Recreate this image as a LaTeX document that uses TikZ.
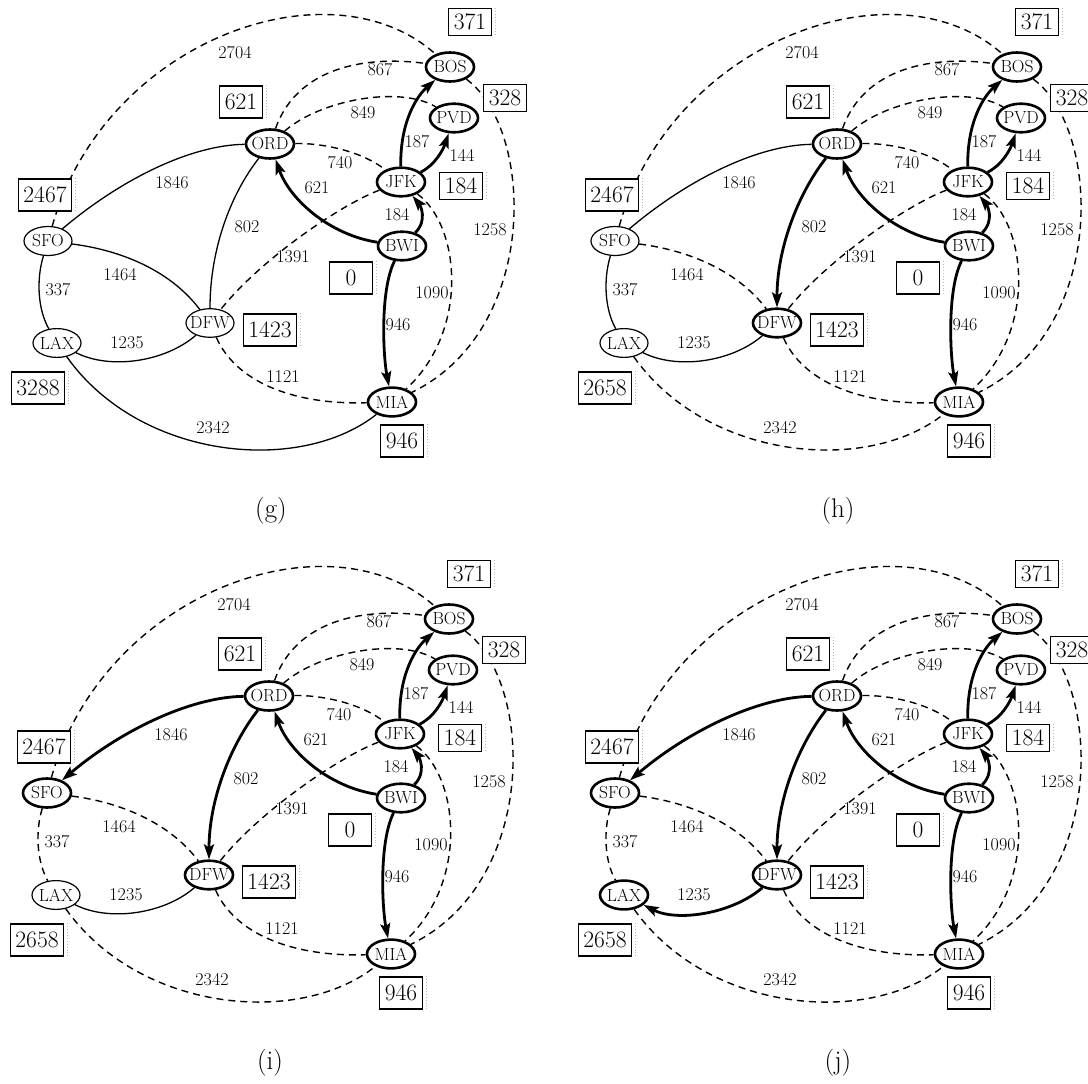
\documentclass[tikz,border=0pt]{standalone}
\usetikzlibrary{shapes.geometric,arrows.meta}
\tikzset{
  apt/.style={ellipse, draw, fill=white, font=\fontsize{17.5}{17.5}\selectfont,
    inner xsep=-3pt, inner ysep=4pt, minimum width=48pt, minimum height=28pt},
  fin/.style={line width=2.6pt},
  unf/.style={line width=1.2pt},
  dist/.style={draw, fill=white, line width=1.1pt, font=\fontsize{23.5}{23.5}\selectfont,
    inner xsep=5pt, inner ysep=2pt, minimum width=43pt, minimum height=32pt},
  sdist/.style={dist, minimum height=27pt},
  wlab/.style={font=\fontsize{18}{18}\selectfont, inner sep=0pt},
  caplab/.style={font=\fontsize{27}{27}\selectfont, inner sep=0pt},
  solidedge/.style={line width=1.3pt},
  dashedge/.style={line width=1.4pt, dash pattern=on 7pt off 5pt},
  treeedge/.style={line width=2.8pt, -{Stealth[length=15pt,width=10pt,inset=3pt]}},
  ghost/.style={gray!55, dotted, line width=0.9pt},
}
\newcommand\distbox[4]{%
  \node[#1] (#2) at #3 {#4};
  \draw[ghost] ([xshift=3pt]#2.north east) -- ([xshift=3pt]#2.south east);}
\newcommand\dijpanel[5]{%
\begin{scope}[shift={(#2,#3)}]
  % airports
  \node[apt,fin]  (#1BOS) at (450,67)  {BOS};
  \node[apt,fin]  (#1PVD) at (454,118) {PVD};
  \node[apt,fin]  (#1ORD) at (270,144) {ORD};
  \node[apt,fin]  (#1JFK) at (401,182) {JFK};
  \node[apt,fin]  (#1BWI) at (402,246) {BWI};
  \node[apt,nSFO] (#1SFO) at (48,241)  {SFO};
  \node[apt,nLAX] (#1LAX) at (57,343)  {LAX};
  \node[apt,nDFW] (#1DFW) at (210,323) {DFW};
  \node[apt,fin]  (#1MIA) at (392,402) {MIA};
  % flights
  \draw[dashedge] (#1SFO) .. controls (105,40) and (330,-40) .. (#1BOS);
  \draw[dashedge] (#1ORD) .. controls (300,60) and (380,57) .. (#1BOS);
  \draw[dashedge] (#1ORD) .. controls (320,100) and (400,85) .. (#1PVD);
  \draw[dashedge] (#1ORD) .. controls (320,143) and (360,150) .. (#1JFK);
  \draw[dashedge] (#1JFK) .. controls (340,205) and (260,260) .. (#1DFW);
  \draw[dashedge] (#1JFK) .. controls (460,225) and (470,330) .. (#1MIA);
  \draw[dashedge] (#1BOS) .. controls (535,130) and (540,330) .. (#1MIA);
  \draw[dashedge] (#1DFW) .. controls (235,380) and (290,405) .. (#1MIA);
  \draw[treeedge] (#1JFK) .. controls (400,120) and (418,95) .. (#1BOS);
  \draw[treeedge] (#1JFK) .. controls (435,165) and (443,150) .. (#1PVD);
  \draw[treeedge] (#1BWI) .. controls (428,220) and (420,205) .. (#1JFK);
  \draw[treeedge] (#1BWI) .. controls (330,235) and (290,200) .. (#1ORD);
  \draw[treeedge] (#1BWI) .. controls (380,290) and (383,355) .. (#1MIA);
  \draw[e802]  (#1ORD) .. controls (230,195) and (210,250) .. (#1DFW);
  \draw[e1846] (#1ORD) .. controls (190,145) and (120,180) .. (#1SFO);
  \draw[e1464] (#1SFO) .. controls (120,250) and (170,270) .. (#1DFW);
  \draw[e337]  (#1SFO) .. controls (36,280) and (38,310) .. (#1LAX);
  \draw[e1235] (#1DFW) .. controls (165,362) and (110,370) .. (#1LAX);
  \draw[e2342] (#1LAX) .. controls (140,460) and (300,475) .. (#1MIA);
  % weights
  \node[wlab] (#1w2704) at (235,53)  {2704};
  \node[wlab] (#1w867)  at (380,70)  {867};
  \node[wlab] (#1w849)  at (363,113) {849};
  \node[wlab] (#1w740)  at (340,163) {740};
  \node[wlab] (#1w187)  at (417,142) {187};
  \node[wlab] (#1w144)  at (462,155) {144};
  \node[wlab] (#1w621)  at (317,188) {621};
  \node[wlab] (#1w184)  at (397,215) {184};
  \node[wlab] (#1w1258) at (490,230) {1258};
  \node[wlab] (#1w1391) at (293,257) {1391};
  \node[wlab] (#1w1090) at (432,293) {1090};
  \node[wlab] (#1w946)  at (398,325) {946};
  \node[wlab] (#1w802)  at (247,227) {802};
  \node[wlab] (#1w1846) at (172,183) {1846};
  \node[wlab] (#1w1464) at (120,275) {1464};
  \node[wlab] (#1w337)  at (58,290)  {337};
  \node[wlab] (#1w1235) at (127,343) {1235};
  \node[wlab] (#1w1121) at (283,377) {1121};
  \node[wlab] (#1w2342) at (213,428) {2342};
  % distances
  \distbox{sdist}{#1dBOS}{(470,22)}{371}
  \node[sdist] (#1dPVD) at (505,98) {328};
  \distbox{dist}{#1dORD}{(241,102)}{621}
  \distbox{dist}{#1dSFO}{(45,195)}{2467}
  \distbox{sdist}{#1dJFK}{(461,186)}{184}
  \distbox{dist}{#1dBWI}{(351,278)}{0}
  \distbox{dist}{#1dDFW}{(270,330)}{1423}
  \distbox{dist}{#1dLAX}{(38,388)}{#5}
  \distbox{dist}{#1dMIA}{(402,441)}{946}
  \node[caplab] (#1cap) at (271,511) {#4};
\end{scope}}
\begin{document}
\begin{tikzpicture}[x=1pt,y=-1pt]
\useasboundingbox (0,0) rectangle (1088,1084);
\tikzset{nSFO/.style={unf}, nLAX/.style={unf}, nDFW/.style={unf},
  e1846/.style={solidedge}, e802/.style={solidedge}, e1464/.style={solidedge},
  e337/.style={solidedge}, e1235/.style={solidedge}, e2342/.style={solidedge}}
\dijpanel{g}{0}{0}{(g)}{3288}
\tikzset{nDFW/.style={fin}, e802/.style={treeedge}, e1464/.style={dashedge}, e2342/.style={dashedge}}
\dijpanel{h}{567}{0}{(h)}{2658}
\tikzset{nSFO/.style={fin}, e1846/.style={treeedge}, e337/.style={dashedge}}
\dijpanel{i}{-1}{552}{(i)}{2658}
\tikzset{nLAX/.style={fin}, e1235/.style={treeedge}}
\dijpanel{j}{567}{552}{(j)}{2658}
\end{tikzpicture}
\end{document}
